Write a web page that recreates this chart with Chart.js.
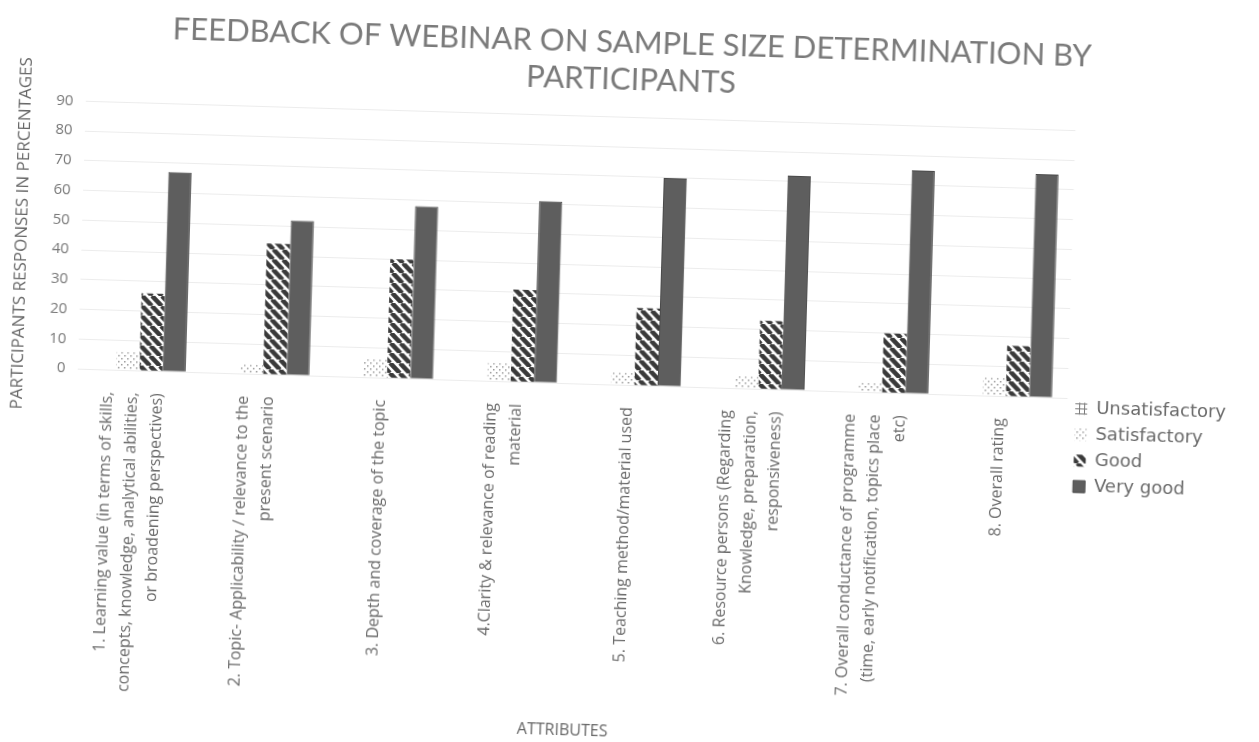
<!DOCTYPE html>
<html>
<head>
<meta charset="utf-8">
<script src="https://cdn.jsdelivr.net/npm/chart.js@4.4.0/dist/chart.umd.min.js"></script>
<style>
  html, body { margin: 0; padding: 0; background: #fff; overflow: hidden; }
  #wrap { width: 1259px; height: 742px; transform: rotate(1.7deg); transform-origin: 50% 50%; }
</style>
</head>
<body>
<div id="wrap"><canvas id="feedbackChart" width="1259" height="742"></canvas></div>
<script>
var attributes = [
  ["1. Learning value (in terms of skills,", "concepts, knowledge, analytical abilities,", "or broadening perspectives)"],
  ["2. Topic- Applicability / relevance to the", "present scenario"],
  ["3. Depth and coverage of the topic"],
  ["4.Clarity & relevance of reading", "material"],
  ["5. Teaching method/material used"],
  ["6. Resource persons (Regarding", "Knowledge, preparation,", "responsiveness)"],
  ["7. Overall conductance of programme", "(time, early notification, topics place", "etc)"],
  ["8. Overall rating"]
];
var unsatisfactory = [0, 0, 0, 0, 0, 0, 0, 0];
var satisfactory = [6, 3, 6, 6, 4, 4, 3, 6];
var good = [26, 44, 40, 31, 26, 23, 20, 17];
var veryGood = [67, 52, 58, 61, 70, 72, 75, 75];
var yTickValues = [0, 10, 20, 30, 40, 50, 60, 70, 80, 90];

// fill patterns for the print-style bars
function makePattern(kind) {
  var c = document.createElement('canvas');
  var s = kind == 'stripes' ? 10 : (kind == 'dots' ? 6 : 5);
  c.width = s; c.height = s;
  var g = c.getContext('2d');
  g.fillStyle = '#fff';
  g.fillRect(0, 0, s, s);
  if (kind == 'stripes') {
    g.strokeStyle = '#3a3a3a';
    g.lineWidth = 4.5;
    [-s, 0, s].forEach(function (k) {
      g.beginPath();
      g.moveTo(k, 0);
      g.lineTo(k + s, s);
      g.stroke();
    });
  } else if (kind == 'dots') {
    g.fillStyle = '#9a9a9a';
    g.fillRect(1, 1, 1.5, 1.5);
    g.fillRect(4, 4, 1.5, 1.5);
  } else {
    g.strokeStyle = '#7a7a7a';
    g.lineWidth = 1;
    g.beginPath();
    g.moveTo(0, 0.5); g.lineTo(s, 0.5);
    g.moveTo(0.5, 0); g.lineTo(0.5, s);
    g.stroke();
  }
  return g.createPattern(c, 'repeat');
}

// rotated multi-line labels: centre the block of lines on its tick
var centerLabels = {
  id: 'centerLabels',
  beforeDraw: function (chart) {
    chart.scales.x.getLabelItems().forEach(function (item) {
      if (item.centred) return;
      var lines = Array.isArray(item.label) ? item.label.length : 1;
      item.options.translation[0] -= (lines - 1) * item.font.lineHeight / 2;
      item.centred = true;
    });
  }
};

var ctx = document.getElementById('feedbackChart').getContext('2d');
var chart = new Chart(ctx, {
  type: 'bar',
  data: {
    labels: attributes,
    datasets: [
      { label: 'Unsatisfactory', data: unsatisfactory, backgroundColor: makePattern('grid') },
      { label: 'Satisfactory', data: satisfactory, backgroundColor: makePattern('dots') },
      { label: 'Good', data: good, backgroundColor: makePattern('stripes') },
      { label: 'Very good', data: veryGood, backgroundColor: '#5e5e5e', borderColor: '#4a4a4a', borderWidth: 1 }
    ]
  },
  plugins: [centerLabels],
  options: {
    responsive: false,
    animation: false,
    layout: { padding: { left: 8, right: 22, top: 24, bottom: 0 } },
    datasets: { bar: { barPercentage: 1, categoryPercentage: 0.75 } },
    plugins: {
      title: {
        display: true,
        text: ['FEEDBACK OF WEBINAR ON SAMPLE SIZE DETERMINATION BY', 'PARTICIPANTS'],
        color: '#7a7a7a',
        font: { family: 'Lato', size: 31, weight: 'normal' },
        padding: { top: 0, bottom: 19 },
        lineHeight: 1.05
      },
      legend: {
        position: 'right',
        align: 'center',
        // empty title only pushes the key entries further down
        title: { display: true, text: '', padding: { top: 0, bottom: 88 } },
        labels: {
          color: '#6a6a6a',
          font: { family: 'DejaVu Sans', size: 18 },
          boxWidth: 12,
          boxHeight: 12,
          padding: 8
        }
      },
      tooltip: { enabled: false }
    },
    scales: {
      x: {
        grid: { display: false },
        border: { display: false },
        ticks: {
          color: '#6a6a6a',
          font: { family: 'Open Sans', size: 16, lineHeight: 1.55 },
          padding: 14,
          labelOffset: -6,
          minRotation: 90,
          maxRotation: 90,
          autoSkip: false
        },
        title: {
          display: true,
          text: 'ATTRIBUTES',
          color: '#666',
          font: { family: 'Open Sans', size: 16 },
          padding: { top: 2, bottom: 0 }
        }
      },
      y: {
        min: 0,
        max: 90,
        afterBuildTicks: function (axis) {
          axis.ticks = yTickValues.map(function (v) { return { value: v }; });
        },
        grid: { color: '#ececec', drawTicks: false },
        border: { display: false },
        ticks: {
          color: '#777',
          font: { family: 'Open Sans', size: 15 },
          padding: 12
        },
        title: {
          display: true,
          text: 'PARTICIPANTS RESPONSES IN PERCENTAGES',
          color: '#666',
          font: { family: 'Open Sans', size: 17 },
          padding: { top: 0, bottom: 8 }
        }
      }
    }
  }
});
</script>
</body>
</html>
